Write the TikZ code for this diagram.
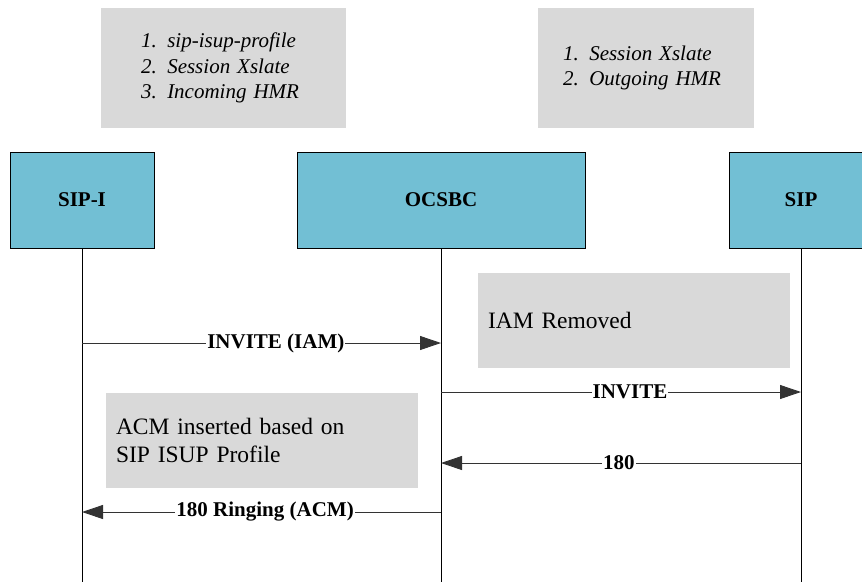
\documentclass[tikz,border=0pt]{standalone}
\usepackage{fontspec}
\setmainfont{Liberation Serif}
\definecolor{boxaqua}{RGB}{114,191,212}
\definecolor{notegray}{RGB}{217,217,217}
\usetikzlibrary{arrows.meta,positioning}

\begin{document}
\begin{tikzpicture}[x=1pt,y=-1pt,
    entity/.style={rectangle, draw=black, fill=boxaqua, line width=0.9pt,
                   minimum height=96pt, font=\fontsize{21}{25}\selectfont\bfseries},
    note/.style={rectangle, fill=notegray, inner ysep=0pt, align=left},
    lifeline/.style={draw=black, line width=0.9pt},
    msg/.style={draw=black!80, line width=0.9pt, -{Triangle[length=21pt,width=14pt]}},
    msglabel/.style={fill=white, inner sep=1pt, font=\fontsize{21}{25}\selectfont\bfseries}]
  \clip (0,0) rectangle (862,582);
  % notes at the top
  \node[note, minimum width=245pt, minimum height=120pt, inner xsep=40pt, text width=165pt,
        font=\fontsize{21}{25.5}\selectfont\itshape] (cfgin) at (223.5,68)
    {1. sip-isup-profile\\2. Session Xslate\\3. Incoming HMR};
  \node[note, minimum width=216pt, minimum height=120pt, inner xsep=25pt, text width=166pt,
        font=\fontsize{21}{25.5}\selectfont\itshape] (cfgout) at (646,68)
    {1. Session Xslate\\2. Outgoing HMR};
  % entities
  \node[entity, minimum width=144pt] (sipi) at (82,200) {SIP-I};
  \node[entity, minimum width=288pt] (ocsbc) at (441,200) {OCSBC};
  \node[entity, minimum width=144pt] (sip) at (801,200) {SIP};
  \foreach \n in {sipi,ocsbc,sip}
    \draw[lifeline] (\n.south) -- (\n.south |- 0,582);
  % notes along the flow
  \node[note, minimum width=312pt, minimum height=95pt, inner xsep=10pt, text width=292pt,
        font=\fontsize{23.5}{28}\selectfont] (iamnote) at (634,320.5) {IAM Removed};
  \node[note, minimum width=312pt, minimum height=95pt, inner xsep=10pt, text width=292pt,
        font=\fontsize{23.5}{28}\selectfont] (acmnote) at (262,440.5)
    {ACM inserted based on\\SIP ISUP Profile};
  % messages
  \foreach \from/\to/\y/\txt/\p in {sipi/ocsbc/343/{INVITE (IAM)}/0.54,
      ocsbc/sip/392/{INVITE}/0.525, sip/ocsbc/463/{180}/0.506,
      ocsbc/sipi/512/{180 Ringing (ACM)}/0.49}
    \draw[msg] (\from.south |- 0,\y) -- node[msglabel, pos=\p] {\txt} (\to.south |- 0,\y);
\end{tikzpicture}
\end{document}
